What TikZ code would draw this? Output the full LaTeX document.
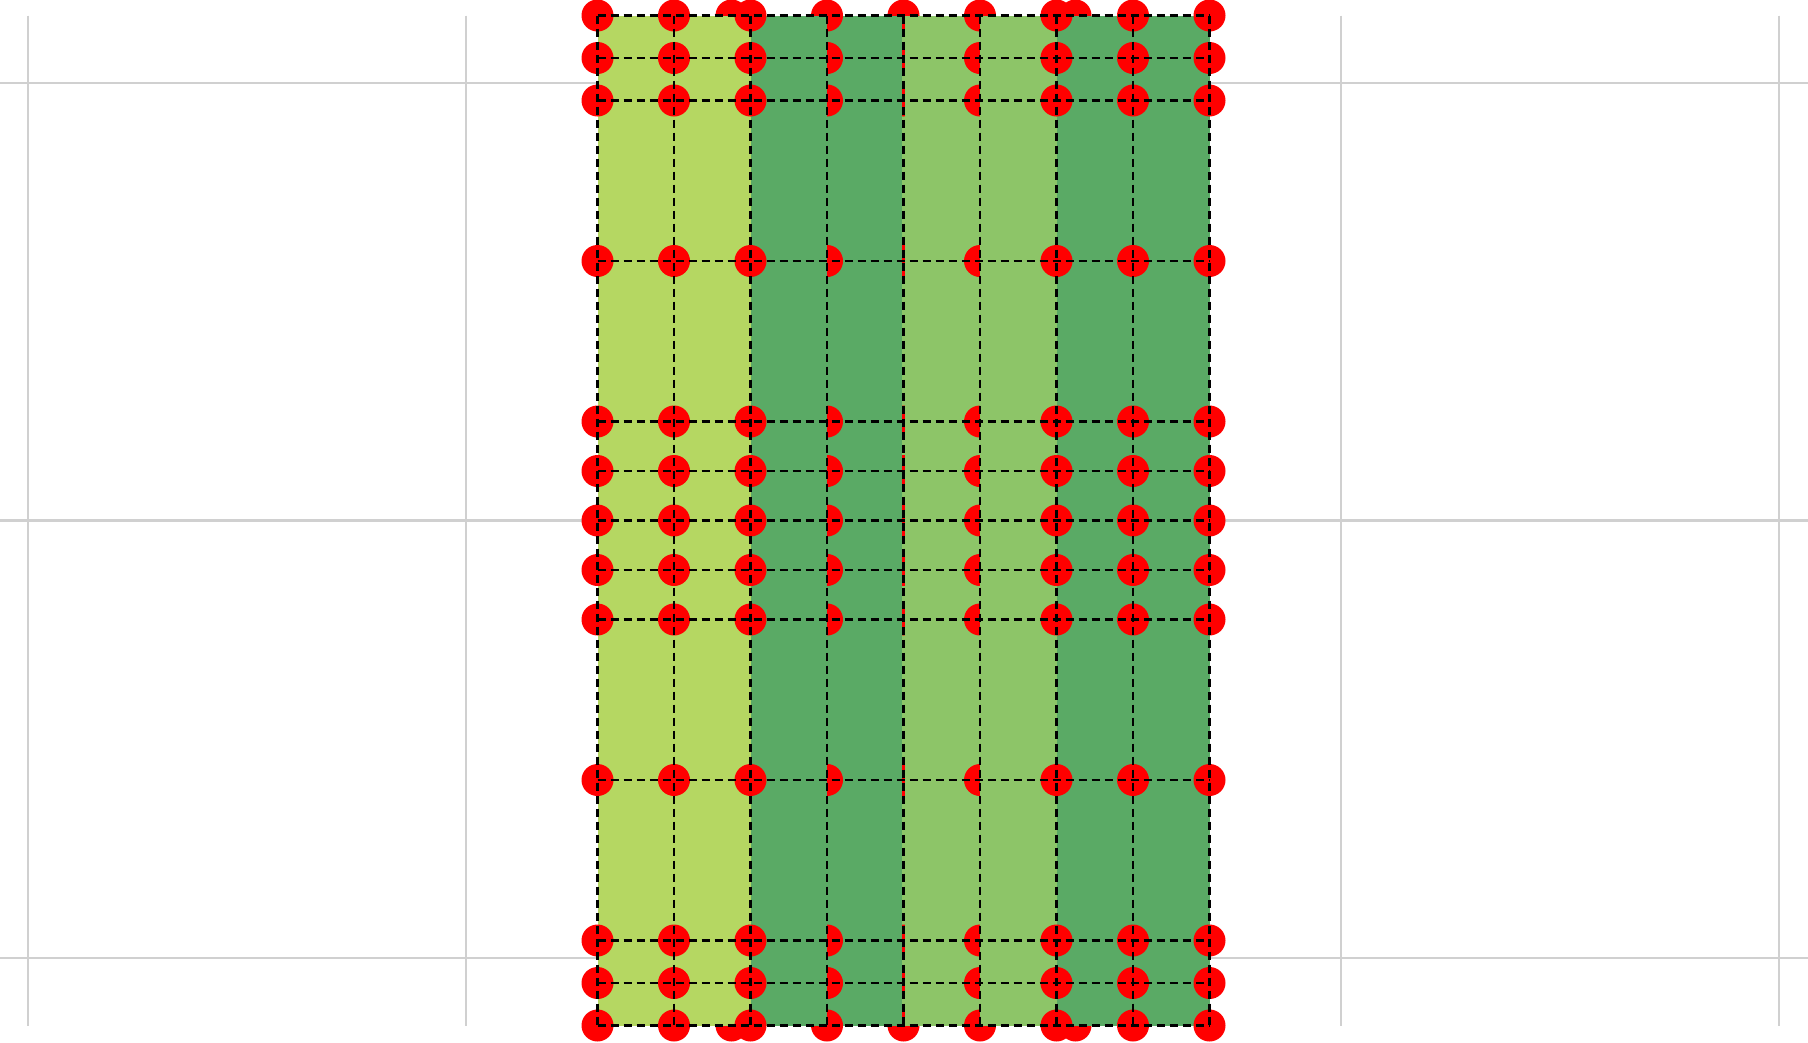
\documentclass[tikz,border=0pt]{standalone}
\definecolor{lightg}{RGB}{181,215,98}
\definecolor{medg}{RGB}{141,197,104}
\definecolor{darkg}{RGB}{90,170,101}
\definecolor{gridgray}{RGB}{208,208,208}
\tikzset{
  bggrid/.style={draw=gridgray,line width=2.2pt},
  meshline/.style={draw=black,line width=2.2pt,dash pattern=on 8pt off 5pt},
  dotfill/.style={fill=red},
}
\newcommand{\meshrows}{15.5,58,100.5,261,421.5,471,520.5,570,619.5,780,940.5,983,1025.5}
\newcommand{\dotrad}{16}
\begin{document}
\begin{tikzpicture}[x=1pt,y=-1pt]
\useasboundingbox (0,0) rectangle (1808,1042);
\fill[white] (0,0) rectangle (1808,1042);
% background grid
\foreach \gx in {28,466,1341,1779}
  \draw[bggrid] (\gx,15.5) -- (\gx,1025.5);
\foreach \gy in {83,520.5,958}
  \draw[bggrid] (0,\gy) -- (1808,\gy);
% backing under the centre seam
\fill[medg] (900,15.5) rectangle (907,1025.5);
% centre dots
\foreach \ry in \meshrows
  \fill[dotfill] (903.5,\ry) circle (\dotrad);
% inner cells
\fill[darkg] (827,15.5) rectangle (902.4,1025.5);
\fill[medg] (904.6,15.5) rectangle (980,1025.5);
\foreach \ry in \meshrows {
  \fill[dotfill] (827,\ry) circle (\dotrad);
  \fill[dotfill] (980,\ry) circle (\dotrad);
}
% second cells
\fill[darkg] (750.5,15.5) rectangle (827,1025.5);
\fill[medg] (980,15.5) rectangle (1056.5,1025.5);
\foreach \ex in {731.5,1075.5} {
  \fill[dotfill] (\ex,15.5) circle (\dotrad);
  \fill[dotfill] (\ex,1025.5) circle (\dotrad);
}
% outer cells
\fill[lightg] (597.5,15.5) rectangle (750.5,1025.5);
\fill[darkg] (1056.5,15.5) rectangle (1209.5,1025.5);
\foreach \ry in \meshrows {
  \foreach \cx in {597.5,674,750.5,1056.5,1133,1209.5}
    \fill[dotfill] (\cx,\ry) circle (\dotrad);
}
% dashed mesh
\foreach \ry in \meshrows
  \draw[meshline] (597.5,\ry) -- (1209.5,\ry);
\foreach \cx in {597.5,674,750.5,827,903.5,980,1056.5,1133,1209.5}
  \draw[meshline] (\cx,15.5) -- (\cx,1025.5);
\end{tikzpicture}
\end{document}
